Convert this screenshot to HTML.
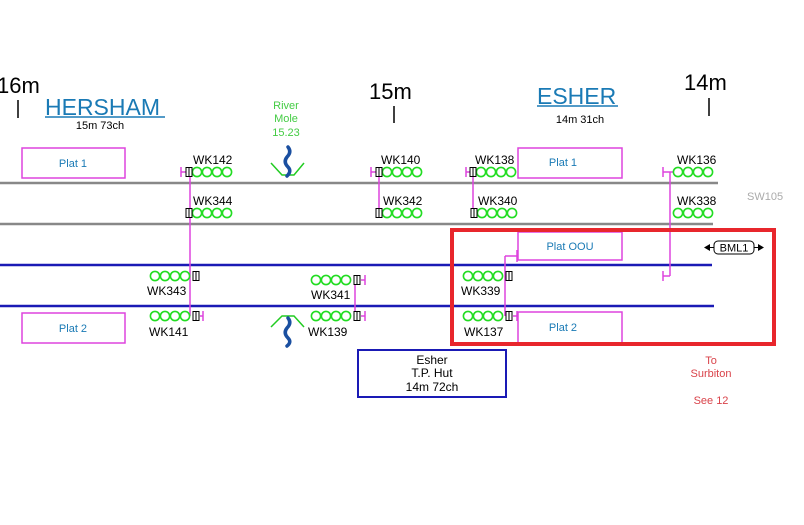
<!DOCTYPE html>
<html><head><meta charset="utf-8"><style>
html,body{margin:0;padding:0;background:#fff;}
svg{display:block;}
text{font-family:"Liberation Sans",sans-serif;}
</style></head><body>
<svg width="804" height="525" viewBox="0 0 804 525" xmlns="http://www.w3.org/2000/svg">
<defs>
<g id="c4" fill="none" stroke="#22dd22" stroke-width="1.6">
<circle cx="5" cy="0" r="4.6"/><circle cx="15" cy="0" r="4.6"/><circle cx="25" cy="0" r="4.6"/><circle cx="35" cy="0" r="4.6"/>
</g>
<g id="bx" fill="#fff" stroke="#000" stroke-width="1">
<rect x="0" y="-4.5" width="6" height="9"/><line x1="3" y1="-4.5" x2="3" y2="4.5"/>
</g>
</defs>
<!-- tracks -->
<line x1="0" y1="183" x2="718" y2="183" stroke="#888" stroke-width="2.5"/>
<line x1="0" y1="224" x2="713" y2="224" stroke="#888" stroke-width="2.5"/>
<line x1="0" y1="265" x2="712" y2="265" stroke="#1a1ab5" stroke-width="2.5"/>
<line x1="0" y1="306" x2="714" y2="306" stroke="#1a1ab5" stroke-width="2.5"/>

<!-- mileposts -->
<text x="-3" y="93" font-size="22">16m</text>
<line x1="18" y1="100" x2="18" y2="118" stroke="#000" stroke-width="1.5"/>
<text x="369" y="99" font-size="22">15m</text>
<line x1="394" y1="106" x2="394" y2="123" stroke="#000" stroke-width="1.5"/>
<text x="684" y="90" font-size="22">14m</text>
<line x1="709" y1="98" x2="709" y2="116" stroke="#000" stroke-width="1.5"/>

<text x="45" y="115" font-size="23" fill="#1a7ab5">HERSHAM</text>
<line x1="45" y1="117" x2="165" y2="117" stroke="#1a7ab5" stroke-width="1.5"/>
<text x="100" y="129" font-size="11" text-anchor="middle">15m 73ch</text>
<text x="537" y="104" font-size="23" fill="#1a7ab5">ESHER</text>
<line x1="537" y1="106" x2="618" y2="106" stroke="#1a7ab5" stroke-width="1.5"/>
<text x="580" y="123" font-size="11" text-anchor="middle">14m 31ch</text>

<text x="286" y="109" font-size="11" fill="#44cc44" text-anchor="middle">River</text>
<text x="286" y="122" font-size="11" fill="#44cc44" text-anchor="middle">Mole</text>
<text x="286" y="136" font-size="11" fill="#44cc44" text-anchor="middle">15.23</text>
<!-- river symbols -->
<path d="M271 163 L282 175 L294 175 L304 163" fill="none" stroke="#22cc22" stroke-width="1.5"/>
<path d="M288 147 Q292 152 287 157 Q283 162 288 167 Q292 171 287 176" fill="none" stroke="#1a4fa0" stroke-width="3.5" stroke-linecap="round"/>
<path d="M271 327 L282 316 L294 316 L304 327" fill="none" stroke="#22cc22" stroke-width="1.5"/>
<path d="M288 318 Q292 323 287 328 Q283 333 288 338 Q292 342 287 346" fill="none" stroke="#1a4fa0" stroke-width="3.5" stroke-linecap="round"/>

<!-- platforms -->
<g fill="none" stroke="#dd44dd" stroke-width="1.5">
<rect x="22" y="148" width="103" height="30"/>
<rect x="22" y="313" width="103" height="30"/>
<rect x="518" y="148" width="104" height="30"/>
<rect x="518" y="232" width="104" height="28"/>
<rect x="518" y="312" width="104" height="32"/>
</g>
<g font-size="11" fill="#1a7ab5" text-anchor="middle">
<text x="73" y="167">Plat 1</text>
<text x="73" y="332">Plat 2</text>
<text x="563" y="166">Plat 1</text>
<text x="570" y="250">Plat OOU</text>
<text x="563" y="331">Plat 2</text>
</g>

<!-- magenta connectors -->
<g stroke="#dd44dd" stroke-width="1.5" fill="none">
<line x1="190" y1="172" x2="190" y2="316"/>
<line x1="181" y1="172" x2="186" y2="172"/><line x1="181" y1="167" x2="181" y2="177"/>
<line x1="379" y1="172" x2="379" y2="213"/>
<line x1="371" y1="172" x2="376" y2="172"/><line x1="371" y1="167" x2="371" y2="177"/>
<line x1="473" y1="172" x2="473" y2="213"/>
<line x1="466" y1="172" x2="470" y2="172"/><line x1="466" y1="167" x2="466" y2="177"/>
<line x1="670" y1="172" x2="670" y2="276"/>
<line x1="663" y1="172" x2="673" y2="172"/><line x1="663" y1="167" x2="663" y2="177"/>
<line x1="663" y1="276" x2="670" y2="276"/><line x1="663" y1="271" x2="663" y2="281"/>
<line x1="355" y1="280" x2="355" y2="316"/>
<line x1="361" y1="280" x2="365" y2="280"/><line x1="365" y1="275" x2="365" y2="285"/>
<line x1="361" y1="316" x2="365" y2="316"/><line x1="365" y1="311" x2="365" y2="321"/>
<line x1="200" y1="316" x2="203" y2="316"/><line x1="203" y1="311" x2="203" y2="321"/>
<line x1="505" y1="256" x2="505" y2="316"/>
<line x1="505" y1="256" x2="517" y2="256"/><line x1="517" y1="250" x2="517" y2="262"/>
<line x1="513" y1="316" x2="517" y2="316"/><line x1="517" y1="311" x2="517" y2="321"/>
</g>

<!-- signals -->
<use href="#c4" x="192" y="172"/><use href="#bx" x="186" y="172"/>
<use href="#c4" x="382" y="172"/><use href="#bx" x="376" y="172"/>
<use href="#c4" x="476" y="172"/><use href="#bx" x="470" y="172"/>
<use href="#c4" x="673" y="172"/>
<use href="#c4" x="192" y="213"/><use href="#bx" x="186" y="213"/>
<use href="#c4" x="382" y="213"/><use href="#bx" x="376" y="213"/>
<use href="#c4" x="477" y="213"/><use href="#bx" x="471" y="213"/>
<use href="#c4" x="673" y="213"/>
<use href="#c4" x="150" y="276"/><use href="#bx" x="193" y="276"/>
<use href="#c4" x="311" y="280"/><use href="#bx" x="354" y="280"/>
<use href="#c4" x="463" y="276"/><use href="#bx" x="506" y="276"/>
<use href="#c4" x="150" y="316"/><use href="#bx" x="193" y="316"/>
<use href="#c4" x="311" y="316"/><use href="#bx" x="354" y="316"/>
<use href="#c4" x="463" y="316"/><use href="#bx" x="506" y="316"/>

<g font-size="12" fill="#000">
<text x="193" y="164">WK142</text>
<text x="381" y="164">WK140</text>
<text x="475" y="164">WK138</text>
<text x="677" y="164">WK136</text>
<text x="193" y="205">WK344</text>
<text x="383" y="205">WK342</text>
<text x="478" y="205">WK340</text>
<text x="677" y="205">WK338</text>
<text x="147" y="295">WK343</text>
<text x="311" y="299">WK341</text>
<text x="461" y="295">WK339</text>
<text x="149" y="336">WK141</text>
<text x="308" y="336">WK139</text>
<text x="464" y="336">WK137</text>
</g>
<text x="747" y="200" font-size="11" fill="#aaa">SW105</text>

<!-- BML1 -->
<rect x="714" y="241" width="40" height="13" rx="4" fill="#fff" stroke="#000" stroke-width="1"/>
<text x="734" y="251.5" font-size="11" text-anchor="middle">BML1</text>
<path d="M704 247.5 L710 244 L710 251 Z" fill="#000"/><line x1="708" y1="247.5" x2="714" y2="247.5" stroke="#000"/>
<path d="M764 247.5 L758 244 L758 251 Z" fill="#000"/><line x1="754" y1="247.5" x2="760" y2="247.5" stroke="#000"/>

<!-- red highlight -->
<rect x="452" y="230" width="322" height="114" fill="none" stroke="#e8262c" stroke-width="4"/>

<!-- TP hut -->
<rect x="358" y="350" width="148" height="47" fill="none" stroke="#1a1ab5" stroke-width="2"/>
<g font-size="12" text-anchor="middle">
<text x="432" y="364">Esher</text>
<text x="432" y="377">T.P. Hut</text>
<text x="432" y="391">14m 72ch</text>
</g>
<g font-size="11" fill="#d9434a" text-anchor="middle">
<text x="711" y="364">To</text>
<text x="711" y="377">Surbiton</text>
<text x="711" y="404">See 12</text>
</g>
</svg>
</body></html>
